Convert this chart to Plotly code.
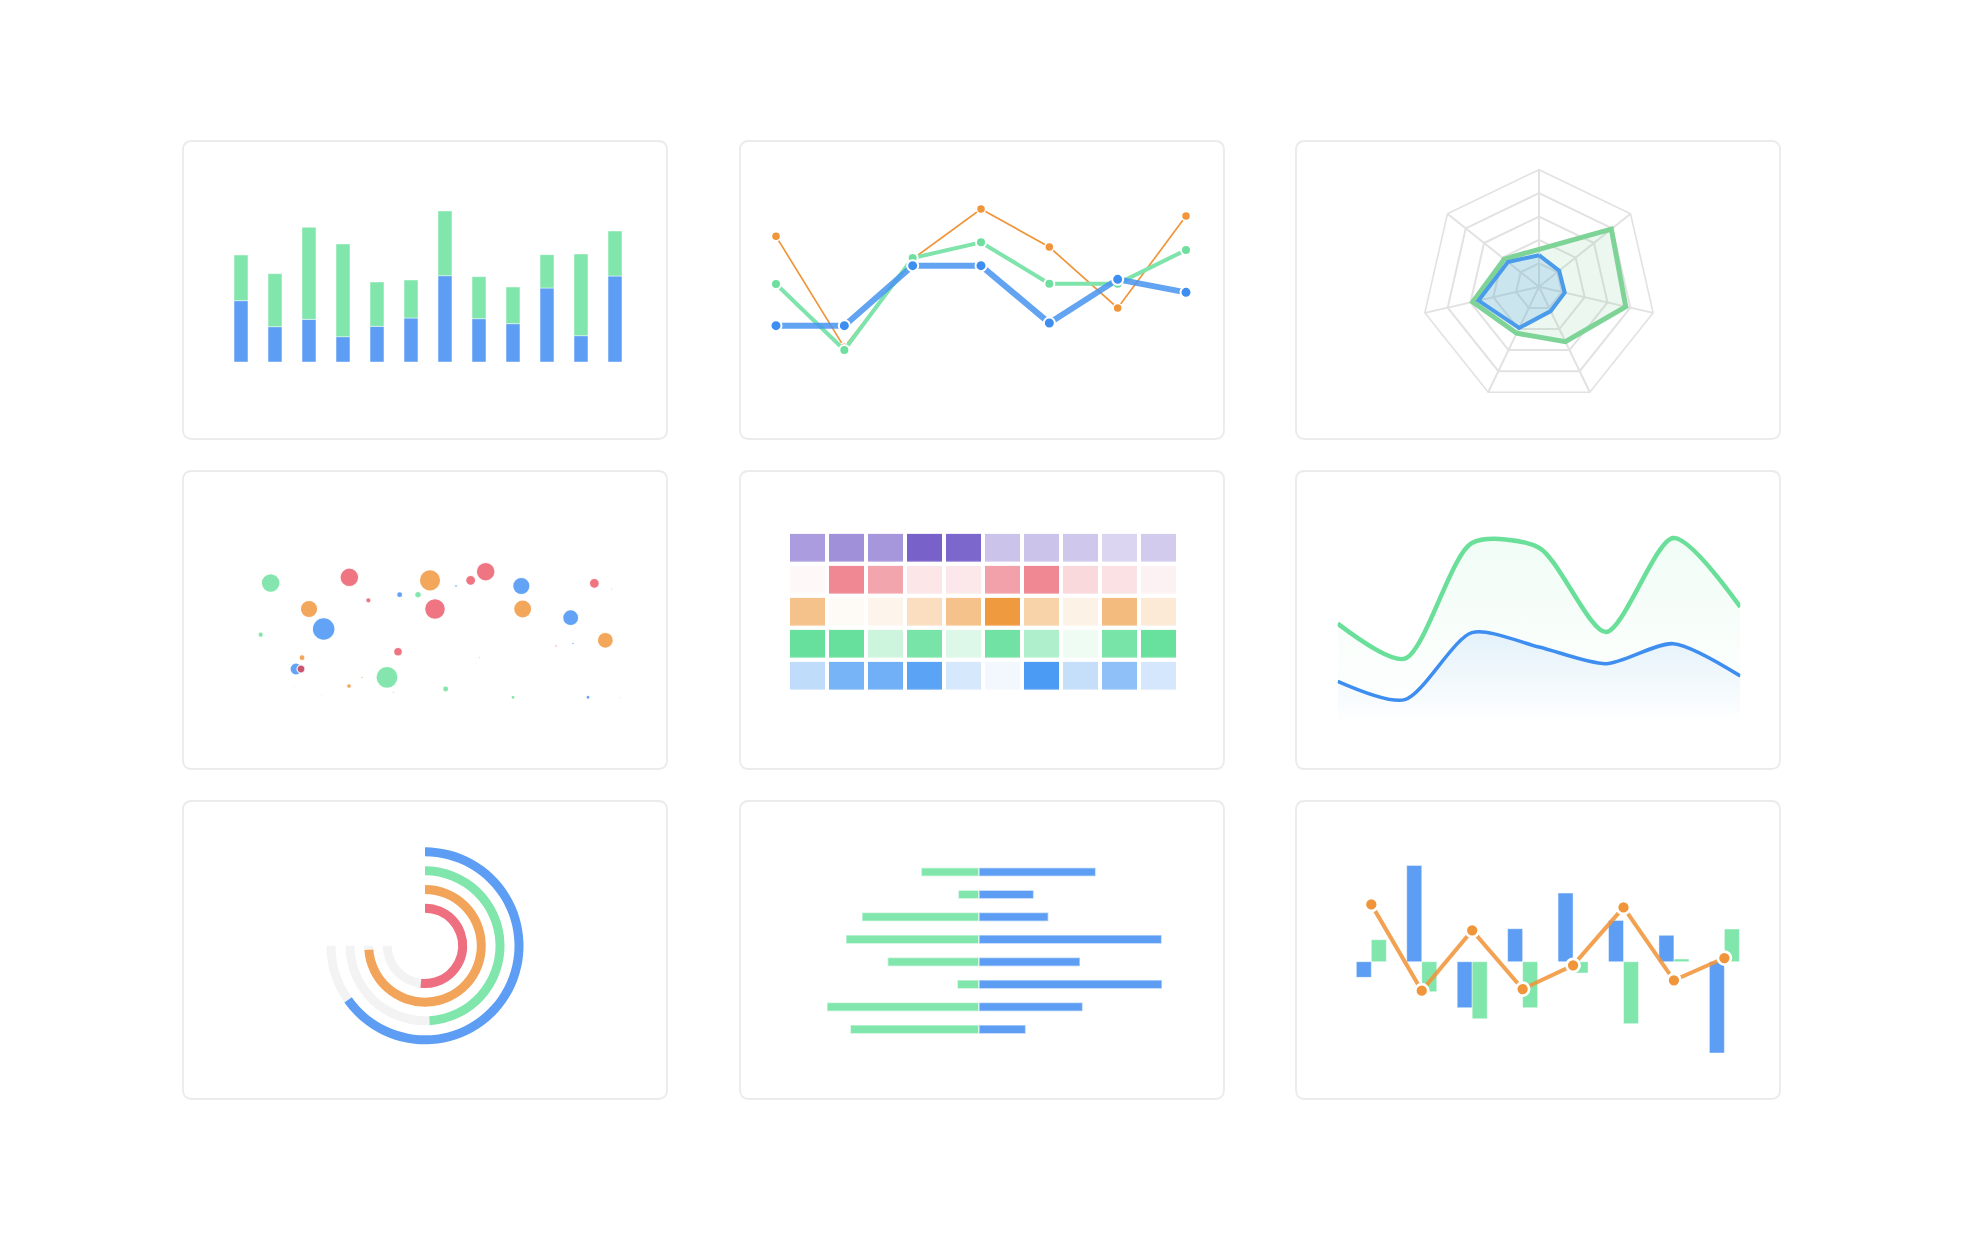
import plotly.graph_objects as go

W, H = 1978, 1248

# ---------------- data ----------------
# Panel 1: stacked bars
bar_blue = [18.4, 10.6, 12.8, 7.6, 10.7, 13.2, 25.9, 13.0, 11.5, 22.2, 7.9, 25.8]
bar_green = [13.7, 15.9, 27.6, 27.8, 13.3, 11.4, 19.4, 12.6, 11.0, 10.0, 24.5, 13.5]

# Panel 2: lines
line_orange = [40.5, 7.2, 33.7, 48.7, 37.3, 19.0, 46.6]
line_green = [26.2, 6.4, 34.0, 38.7, 26.3, 26.3, 36.4]
line_blue = [13.7, 13.7, 31.7, 31.7, 14.5, 27.6, 23.7]

# Panel 3: radar
radar_axes = ["A", "B", "C", "D", "E", "F", "G"]
radar_green = [32, 79, 76, 52, 44, 58, 38]
radar_blue = [27, 22, 22.5, 23, 39, 53, 34]

# Panel 4: bubbles
bub_x = [7.2, 30.8, 55.0, 67.2, 71.7, 82.4, 104.3, 109.5, 18.7, 23.1, 36.5, 45.9, 51.4,
         62.8, 56.5, 82.8, 97.2, 4.2, 107.6, 92.8, 97.9, 82.5, 45.4, 16.6, 14.8, 16.3,
         42.1, 34.6, 30.7, 59.7, 69.9, 68.6, 79.9, 102.4, 111.9, 44.1, 14.4, 22.4, 55.6]
bub_y = [40.2, 41.9, 41.0, 41.0, 43.6, 39.3, 40.1, 38.4, 32.4, 26.4, 35.0, 36.7, 36.7,
         39.3, 32.4, 32.4, 29.8, 24.7, 23.0, 21.3, 22.1, 25.6, 19.6, 17.8, 14.4, 14.4,
         11.9, 11.9, 9.3, 8.4, 17.8, 16.1, 5.9, 5.9, 5.8, 7.4, 9.3, 6.7, 22.2]
bub_size = [18.7, 18.7, 21.3, 10, 18.7, 17.3, 10, 2, 17.3, 22.7, 5.3, 6, 6.7,
            2.7, 20.7, 18, 16, 5.3, 16, 2.3, 2.3, 1.3, 8.7, 6, 12, 8,
            22, 2.3, 4.7, 6, 1.7, 1, 4, 4, 1.7, 1.7, 1.7, 1, 0.7]
bub_cat = ["g", "r", "o", "r", "r", "b", "r", "g", "o", "b", "r", "b", "g",
           "b", "r", "o", "b", "g", "o", "r", "b", "g", "r", "o", "b", "d",
           "g", "o", "o", "g", "r", "g", "g", "b", "o", "b", "g", "b", "g"]

# Panel 5: heatmap intensities (rows: purple, red, orange, green, blue)
heat_purple = [0.63, 0.71, 0.66, 1.0, 0.97, 0.38, 0.38, 0.35, 0.27, 0.33]
heat_red = [0.06, 1.0, 0.76, 0.21, 0.19, 0.80, 1.0, 0.32, 0.25, 0.11]
heat_orange = [0.60, 0.05, 0.10, 0.33, 0.60, 1.0, 0.45, 0.13, 0.67, 0.21]
heat_green = [1.0, 0.99, 0.33, 0.88, 0.22, 0.92, 0.52, 0.11, 0.88, 0.98]
heat_blue = [0.35, 0.76, 0.79, 0.91, 0.23, 0.07, 1.0, 0.32, 0.62, 0.24]

# Panel 6: smooth areas
area_green = [30.0, 19.5, 54.2, 52.8, 27.5, 55.7, 35.0]
area_blue = [12.7, 7.2, 27.3, 23.0, 18.0, 24.0, 14.3]

# Panel 7: radial progress (outer to inner)
ring_values = [0.87, 0.654, 0.985, 0.69]

# Panel 8: diverging bars
div_green = [17.3, 6.2, 35.1, 39.9, 27.4, 6.5, 45.6, 38.6]
div_blue = [35.0, 16.4, 20.8, 54.8, 30.3, 54.9, 31.1, 14.0]

# Panel 9: grouped bars + line
mix_blue = [-4.7, 28.9, -13.8, 9.9, 20.6, 12.4, 7.9, -27.4]
mix_green = [6.6, -9.0, -17.1, -13.8, -3.4, -18.6, 0.8, 9.8]
mix_orange = [17.2, -8.7, 9.4, -8.2, -1.1, 16.3, -5.6, 1.1]

# ---------------- styles ----------------
BLUE = "#5d9ef4"
GREEN = "#80e6ac"
ORANGE = "#f0953a"
RED = "#ee7080"


def xd(a, b):
    return [a / W, b / W]


def yd(top, bottom):
    return [1 - bottom / H, 1 - top / H]


fig = go.Figure()
layout = dict(width=W, height=H, margin=dict(l=0, r=0, t=0, b=0, pad=0),
              paper_bgcolor="white", plot_bgcolor="rgba(0,0,0,0)",
              showlegend=False, barmode="overlay", hovermode=False)


def axes(n, xdom, ydom, xr, yr):
    sx = "" if n == 1 else str(n)
    layout["xaxis" + sx] = dict(domain=xdom, range=xr, visible=False, fixedrange=True,
                                anchor="y" + sx)
    layout["yaxis" + sx] = dict(domain=ydom, range=yr, visible=False, fixedrange=True,
                                anchor="x" + sx)
    return "x" + sx, "y" + sx


# Panel 1
xa, ya = axes(1, xd(224, 632), yd(362 - 50 * 10 / 3, 362), [-0.5, 11.5], [0, 50])
idx = list(range(len(bar_blue)))
edge = dict(color="rgba(255,255,255,0.45)", width=1)
fig.add_trace(go.Bar(x=idx, y=bar_blue, width=0.41, marker=dict(color=BLUE, line=edge),
                     xaxis=xa, yaxis=ya))
fig.add_trace(go.Bar(x=idx, y=bar_green, base=bar_blue, width=0.41,
                     marker=dict(color=GREEN, line=edge), xaxis=xa, yaxis=ya))

# Panel 2
xa, ya = axes(2, xd(741.83, 1220.17), yd(171.33, 371.33), [-0.5, 6.5], [0, 60])
idx = list(range(len(line_blue)))
fig.add_trace(go.Scatter(x=idx, y=line_orange, mode="lines+markers",
                         line=dict(color=ORANGE, width=1.7),
                         marker=dict(color=ORANGE, size=9, line=dict(color="white", width=1.5)),
                         xaxis=xa, yaxis=ya))
fig.add_trace(go.Scatter(x=idx, y=line_green, mode="lines+markers",
                         line=dict(color="#7fe4ab", width=4),
                         marker=dict(color="#6edf9e", size=10, line=dict(color="white", width=2)),
                         xaxis=xa, yaxis=ya))
fig.add_trace(go.Scatter(x=idx, y=line_blue, mode="lines+markers",
                         line=dict(color="rgba(70,148,240,0.85)", width=6),
                         marker=dict(color="#3d8ef0", size=11, line=dict(color="white", width=2)),
                         xaxis=xa, yaxis=ya))

# Panel 3: radar
fig.add_trace(go.Scatterpolar(r=radar_green + radar_green[:1], theta=radar_axes + radar_axes[:1],
                              mode="lines", fill="toself",
                              fillcolor="rgba(126,211,150,0.15)",
                              line=dict(color="#7ed396", width=5), subplot="polar"))
fig.add_trace(go.Scatterpolar(r=radar_blue + radar_blue[:1], theta=radar_axes + radar_axes[:1],
                              mode="lines", fill="toself",
                              fillcolor="rgba(74,155,234,0.2)",
                              line=dict(color="#4a9bea", width=4), subplot="polar"))
grid = "#e2e2e2"
layout["polar"] = dict(
    domain=dict(x=xd(1539 - 117.1, 1539 + 117.1), y=yd(286.8 - 117.1, 286.8 + 117.1)),
    gridshape="linear", bgcolor="rgba(0,0,0,0)",
    radialaxis=dict(range=[0, 100], tickvals=[20, 40, 60, 80], showticklabels=False,
                    ticks="", showline=False, gridcolor=grid, gridwidth=1.6),
    angularaxis=dict(rotation=90, direction="clockwise", showticklabels=False, ticks="",
                     showline=True, linecolor=grid, linewidth=1.6,
                     gridcolor=grid, gridwidth=1.6),
)

# Panel 4: bubbles
xa, ya = axes(3, xd(246.67, 646.67), yd(517, 717), [0, 120], [0, 60])
cmap = {"g": "#84e6ae", "r": "#ef7583", "o": "#f3a75b", "b": "#62a3f6", "d": "#c9566f"}
fig.add_trace(go.Scatter(x=bub_x, y=bub_y, mode="markers",
                         marker=dict(size=bub_size, color=[cmap[c] for c in bub_cat],
                                     opacity=1,
                                     line=dict(color="rgba(255,255,255,0.9)", width=1.2)),
                         cliponaxis=False, xaxis=xa, yaxis=ya))

# Panel 5: heatmap
xa, ya = axes(4, xd(788, 1178), yd(531.83, 691.83), [-0.5, 9.5], [4.5, -0.5])
rows = [(heat_purple, "#7862ca"), (heat_red, "#ef8893"), (heat_orange, "#ef9a3e"),
        (heat_green, "#66e09c"), (heat_blue, "#4b9bf4")]
for ri, (vals, col) in enumerate(rows):
    z = [[None] * len(vals) for _ in rows]
    z[ri] = vals
    fig.add_trace(go.Heatmap(z=z, x=list(range(len(vals))), y=list(range(len(rows))),
                             colorscale=[[0, "#ffffff"], [1, col]], zmin=0, zmax=1,
                             showscale=False, xgap=4, ygap=4.3, hoverinfo="skip",
                             xaxis=xa, yaxis=ya))

# Panel 6: smooth areas
xa, ya = axes(5, xd(1337.67, 1740.33), yd(523.67, 723.67), [0, 6], [0, 60])
idx = list(range(len(area_green)))
fig.add_trace(go.Scatter(x=idx, y=area_green, mode="lines", line=dict(color="#6adf9a", width=4.5,
                                                                      shape="spline", smoothing=0.75),
                         fill="tozeroy",
                         fillgradient=dict(type="vertical", start=0, stop=max(area_green),
                                           colorscale=[[0, "rgba(102,224,156,0)"],
                                                       [1, "rgba(102,224,156,0.09)"]]),
                         xaxis=xa, yaxis=ya))
fig.add_trace(go.Scatter(x=idx, y=area_blue, mode="lines", line=dict(color="#3d8ef0", width=3.5,
                                                                     shape="spline", smoothing=0.75),
                         fill="tozeroy",
                         fillgradient=dict(type="vertical", start=0, stop=max(area_blue),
                                           colorscale=[[0, "rgba(61,142,240,0)"],
                                                       [1, "rgba(61,142,240,0.11)"]]),
                         xaxis=xa, yaxis=ya))

# Panel 7: radial progress bars
ring_colors = [BLUE, GREEN, "#f2a55a", RED]
ring_base = [89.5, 70.5, 51.8, 33.2]
span = 270
for v, c, b in zip(ring_values, ring_colors, ring_base):
    a = v * span
    fig.add_trace(go.Barpolar(r=[9], theta=[a + (span - a) / 2], width=[span - a],
                              base=[b], marker=dict(color="#f3f3f3", line=dict(width=0)),
                              subplot="polar2"))
    fig.add_trace(go.Barpolar(r=[9], theta=[a / 2], width=[a], base=[b],
                              marker=dict(color=c, line=dict(width=0)), subplot="polar2"))
layout["polar2"] = dict(
    domain=dict(x=xd(325, 525), y=yd(845.83, 1045.83)), bgcolor="rgba(0,0,0,0)",
    radialaxis=dict(range=[0, 100], visible=False),
    angularaxis=dict(rotation=90, direction="clockwise", visible=False),
)

# Panel 8: diverging bars
xa, ya = axes(6, xd(779, 1179), yd(860.76, 1040.57), [-60, 60], [7.5, -0.5])
idx = list(range(len(div_blue)))
edge2 = dict(color="rgba(255,255,255,0.55)", width=1.5)
fig.add_trace(go.Bar(y=idx, x=[-v for v in div_green], orientation="h", width=0.386,
                     marker=dict(color=GREEN, line=edge2), xaxis=xa, yaxis=ya))
fig.add_trace(go.Bar(y=idx, x=div_blue, orientation="h", width=0.386,
                     marker=dict(color=BLUE, line=edge2), xaxis=xa, yaxis=ya))

# Panel 9: grouped bars + line
xa, ya = axes(7, xd(1346.1, 1749.6), yd(828.4, 1095), [-0.5, 7.5], [-40, 40])
idx = list(range(len(mix_blue)))
bw = 0.2975
fig.add_trace(go.Bar(x=idx, y=mix_blue, width=bw, offset=-bw,
                     marker=dict(color=BLUE, line=edge), xaxis=xa, yaxis=ya))
fig.add_trace(go.Bar(x=idx, y=mix_green, width=bw, offset=0,
                     marker=dict(color=GREEN, line=edge), xaxis=xa, yaxis=ya))
fig.add_trace(go.Scatter(x=idx, y=mix_orange, mode="lines+markers",
                         line=dict(color="rgba(240,149,58,0.88)", width=4),
                         marker=dict(color=ORANGE, size=13, line=dict(color="white", width=2.7)),
                         cliponaxis=False, xaxis=xa, yaxis=ya))

# ---------------- panel cards ----------------
def rrect(x0, y0, x1, y1, r):
    X = lambda x: x / W
    Y = lambda y: 1 - y / H
    return (f"M {X(x0 + r)},{Y(y0)} L {X(x1 - r)},{Y(y0)} Q {X(x1)},{Y(y0)} {X(x1)},{Y(y0 + r)} "
            f"L {X(x1)},{Y(y1 - r)} Q {X(x1)},{Y(y1)} {X(x1 - r)},{Y(y1)} "
            f"L {X(x0 + r)},{Y(y1)} Q {X(x0)},{Y(y1)} {X(x0)},{Y(y1 - r)} "
            f"L {X(x0)},{Y(y0 + r)} Q {X(x0)},{Y(y0)} {X(x0 + r)},{Y(y0)} Z")


shapes = []
for cy in [141, 471, 801]:
    for cx in [183, 740, 1296]:
        shapes.append(dict(type="path", xref="paper", yref="paper",
                           path=rrect(cx, cy, cx + 484, cy + 298, 9),
                           line=dict(color="#ebebeb", width=1.8), fillcolor="white",
                           layer="below"))
layout["shapes"] = shapes

fig.update_layout(**layout)
fig.write_html("out.html")
